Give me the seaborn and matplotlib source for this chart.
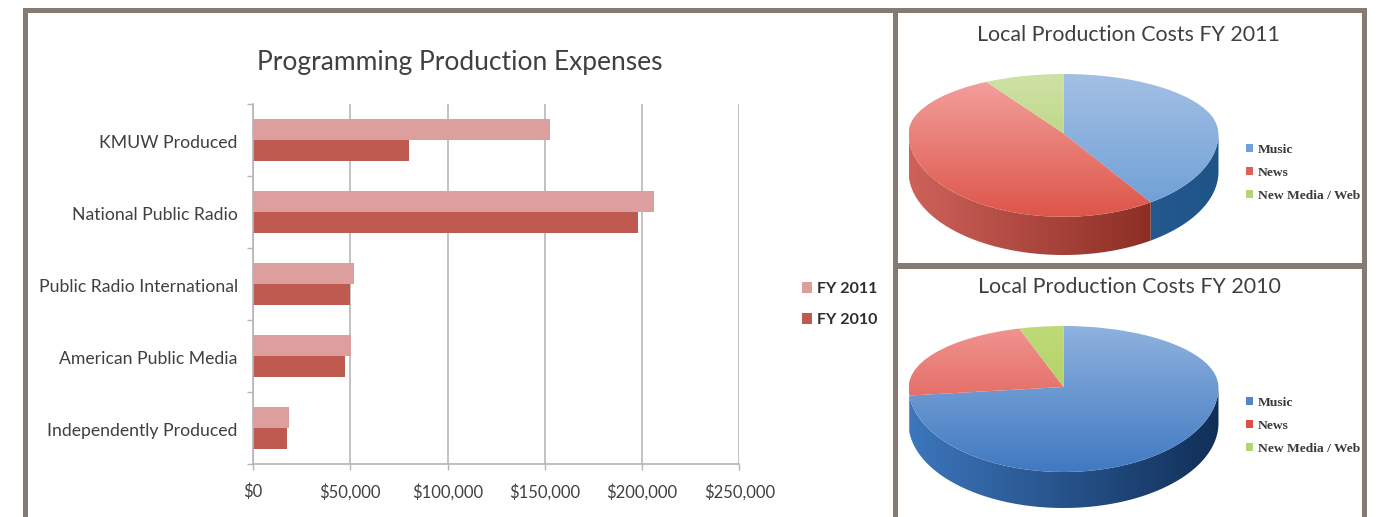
import numpy as np
import pandas as pd
import matplotlib.pyplot as plt
import seaborn as sns
from matplotlib.colors import LinearSegmentedColormap
from matplotlib.patches import PathPatch, Polygon, Patch, Rectangle
from matplotlib.path import Path
from matplotlib.transforms import ScaledTranslation

sources = ['KMUW Produced', 'National Public Radio', 'Public Radio International',
           'American Public Media', 'Independently Produced']
fy2011 = [152600, 206000, 52000, 50500, 18500]
fy2010 = [80000, 198000, 50000, 47500, 17700]
x_ticks = [0, 50000, 100000, 150000, 200000, 250000]
x_labels = ['$0', '$50,000', '$100,000', '$150,000', '$200,000', '$250,000']

pie_labels = ['Music', 'News', 'New Media / Web']
shares_2011 = [40.5, 51.2, 8.3]
shares_2010 = [73.4, 22.0, 4.6]

W, H = 1379, 517
FRAME = '#857B73'
TEXT = '#404040'
TITLE_FONT = 'Lato'

sns.set_theme(style='white')
plt.rcParams['font.family'] = [TITLE_FONT, 'DejaVu Sans']


def px_axes(fig, left, top, right, bottom):
    return fig.add_axes([left / W, 1 - bottom / H, (right - left) / W, (bottom - top) / H])


def gradient(ax, patch, colors, extent, vertical):
    cmap = LinearSegmentedColormap.from_list('g', colors)
    ramp = np.linspace(0, 1, 256)
    ramp = ramp.reshape(-1, 1) if vertical else ramp.reshape(1, -1)
    im = ax.imshow(ramp, cmap=cmap, extent=extent, origin='upper', aspect='auto',
                   zorder=patch.get_zorder())
    ax.add_patch(patch)
    im.set_clip_path(patch)


def pie_3d(ax, shares, face_colors, wall_colors, up, down, wall):
    wedges, _ = ax.pie(shares, startangle=90, counterclock=False, radius=1)
    for w, face, side in zip(wedges, face_colors, wall_colors):
        # side wall, only the part of the slice that faces the viewer
        ang = np.radians(np.linspace(w.theta1, w.theta2, 300))
        ang = ang[np.sin(ang) < 0]
        if len(ang):
            xs = np.cos(ang)
            ys = np.sin(ang) * down
            pts = np.r_[np.c_[xs, ys], np.c_[xs, ys - wall][::-1]]
            gradient(ax, Polygon(pts, fc='none', ec='none', zorder=1), side,
                     (-1, 1, -down - wall, 0), False)
        # top face squashed, the near half more than the far half
        path = w.get_patch_transform().transform_path(w.get_path())
        verts = path.vertices.copy()
        verts[:, 1] *= np.where(verts[:, 1] > 0, up, down)
        top = PathPatch(Path(verts, path.codes), fc='none', ec='none', zorder=2)
        gradient(ax, top, face, (-1, 1, -down, up), True)
        w.set_visible(False)
    ax.set_aspect('auto')
    ax.set_xlim(-1, 1)
    ax.set_ylim(-down - wall, up)
    ax.axis('off')


def pie_legend(ax, colors, x, y):
    handles = [Patch(fc=c, ec='none', label=l) for c, l in zip(colors, pie_labels)]
    ax.legend(handles=handles, loc='upper left', bbox_to_anchor=(x / W, 1 - y / H),
              bbox_transform=ax.figure.transFigure, frameon=False, borderpad=0, borderaxespad=0,
              handlelength=0.52, handleheight=0.52, handletextpad=0.35, labelspacing=0.8,
              labelcolor='#3a3a3a', prop={'family': 'Liberation Serif', 'weight': 'bold', 'size': 9.7})


fig = plt.figure(figsize=(W / 100, H / 100), dpi=100, facecolor='white')

# frame round the three panels
for x0, y0, x1, y1 in [(23, 8, 1367, 13), (23, 8, 28, H), (893, 8, 898, H),
                       (1362, 8, 1367, H), (893, 263, 1367, 269)]:
    fig.add_artist(Rectangle((x0 / W, 1 - y1 / H), (x1 - x0) / W, (y1 - y0) / H,
                             transform=fig.transFigure, fc=FRAME, ec='none'))

# bars
df = pd.DataFrame({'source': sources * 2,
                   'expense': fy2011 + fy2010,
                   'year': ['FY 2011'] * 5 + ['FY 2010'] * 5})
ax = px_axes(fig, 253, 104, 739.5, 464)
sns.barplot(data=df, y='source', x='expense', hue='year', hue_order=['FY 2011', 'FY 2010'],
            palette=['#DC9F9E', '#BE5A50'], width=0.57, gap=0, saturation=1, linewidth=0, ax=ax)
ax.set_xlim(0, 250000)
ax.set_ylim(4.5, -0.5)
ax.set_xlabel('')
ax.set_ylabel('')
ax.set_xticks(x_ticks)
ax.set_xticklabels([s.replace('$', r'\$') for s in x_labels], fontsize=12, color=TEXT)
ax.set_yticks(np.arange(-0.5, 5), minor=True)
ax.tick_params(axis='y', which='major', length=0, pad=11, labelsize=12.7, labelcolor=TEXT)
ax.tick_params(axis='y', which='minor', length=4, width=1, color='#b5b5b5', left=True)
ax.tick_params(axis='x', length=4, width=1, color='#b5b5b5', bottom=True, pad=10)
ax.grid(axis='x', color='#bdbdbd', lw=1.3)
ax.set_axisbelow(True)
sns.despine(ax=ax, top=True, right=True)
for side in ['left', 'bottom']:
    ax.spines[side].set_color('#b5b5b5')
    ax.spines[side].set_linewidth(1.2)
down_shift = ScaledTranslation(0, -1.5 / 100, fig.dpi_scale_trans)
for label in ax.get_yticklabels():
    label.set_transform(label.get_transform() + down_shift)
ax.legend(loc='upper left', bbox_to_anchor=(802 / W, 1 - 282 / H), bbox_transform=fig.transFigure,
          frameon=False, borderpad=0, borderaxespad=0, handlelength=0.62, handleheight=0.62,
          handletextpad=0.35, labelspacing=1.08, labelcolor='#2e2e2e',
          prop={'weight': 'bold', 'size': 11.5})
fig.text(460 / W, 1 - 63 / H, 'Programming Production Expenses', ha='center', va='center',
         fontsize=19, color=TEXT)

# pies
ax11 = px_axes(fig, 908.5, 74, 1218.5, 255)
pie_3d(ax11, shares_2011,
       [['#A3C0E4', '#6C9DD6'], ['#F4A3A0', '#DD5548'], ['#CFE2A6', '#A9CB62']],
       [['#2F6AA8', '#1F5488'], ['#CE625B', '#7A1F14'], ['#8CAB45', '#6F8C30']],
       59 / 155, 83 / 155, 38 / 155)
pie_legend(ax11, ['#6FA0D8', '#DE5F55', '#B5D56F'], 1246, 144)

ax10 = px_axes(fig, 908.5, 326, 1218.5, 508)
pie_3d(ax10, shares_2010,
       [['#8FB2DE', '#4079C2'], ['#F09491', '#D9483C'], ['#BFDA78', '#A3C94F']],
       [['#3C76BC', '#112F58'], ['#D2655F', '#7A1F14'], ['#8CAB45', '#6F8C30']],
       61 / 155, 85 / 155, 36 / 155)
pie_legend(ax10, ['#4F86CC', '#DE4F45', '#B5D56F'], 1246, 397)

fig.text(1128 / W, 1 - 35 / H, 'Local Production Costs FY 2011', ha='center', va='center',
         fontsize=15.4, color=TEXT)
fig.text(1129.5 / W, 1 - 287 / H, 'Local Production Costs FY 2010', ha='center', va='center',
         fontsize=15.4, color=TEXT)

fig.savefig('out.png', dpi=100)
